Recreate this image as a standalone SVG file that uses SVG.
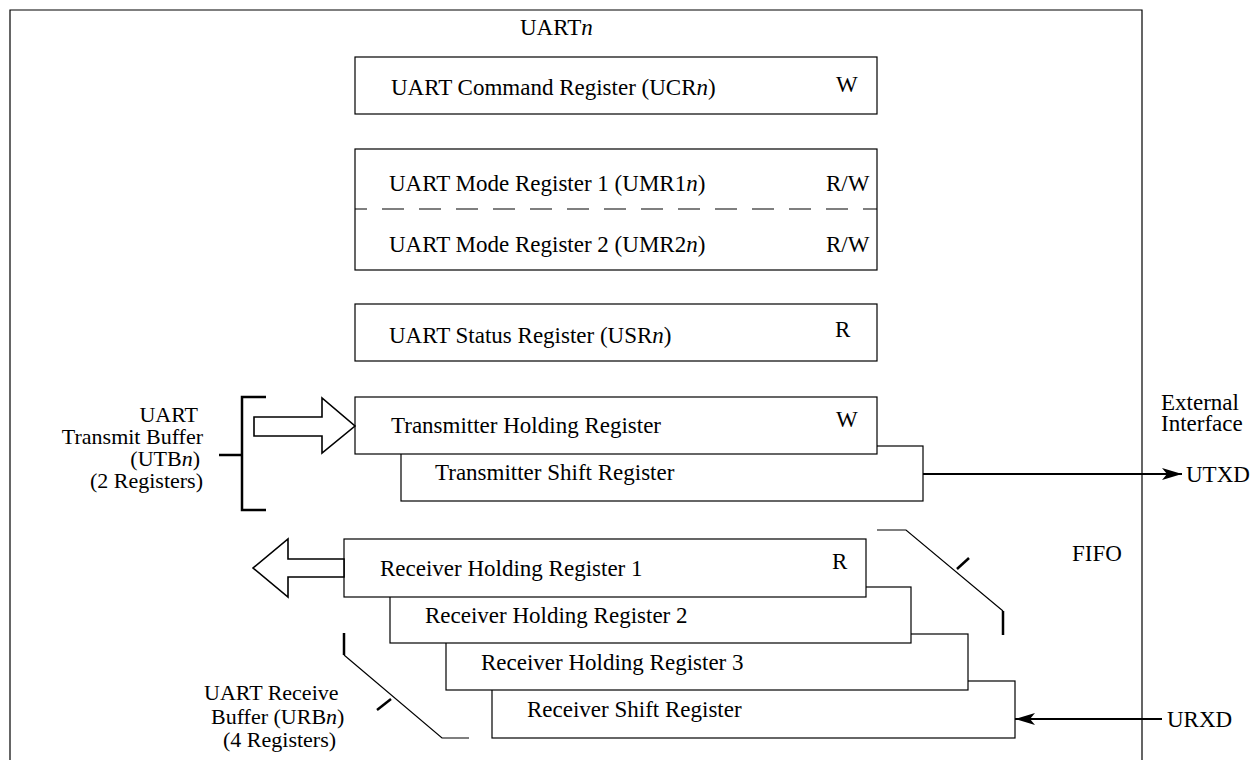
<svg xmlns="http://www.w3.org/2000/svg" width="1258" height="760" viewBox="0 0 1258 760">
<style>
text{font-family:"Liberation Serif","Times New Roman",serif;font-size:23px;fill:#000}
.lbl{font-size:22px}
.box{fill:#fff;stroke:#000;stroke-width:1.2}
.it{font-style:italic}
.ln{fill:none;stroke:#000;stroke-width:1.2}
.thick{fill:none;stroke:#000;stroke-width:2.5}
.hollow{fill:#fff;stroke:#000;stroke-width:1.6;stroke-linejoin:miter}
.wire{fill:none;stroke:#000;stroke-width:2.2}
</style>
<defs>
<marker id="ah" markerUnits="userSpaceOnUse" markerWidth="20" markerHeight="12" refX="20" refY="6" orient="auto">
<path d="M0,0 L20,6 L0,12 L5,6 z" fill="#000"/>
</marker>
</defs>
<rect width="1258" height="760" fill="#fff"/>
<g id="frame">
<path class="ln" d="M10,760 V10 H1142 V760"/>
<text x="520" y="35">UART<tspan class="it">n</tspan></text>
<text x="1161" y="410">External</text>
<text x="1161" y="431">Interface</text>
<text x="1072" y="561">FIFO</text>
</g>
<g id="ucr">
<rect class="box" x="355" y="57" width="522" height="57"/>
<text x="391" y="95">UART Command Register (UCR<tspan class="it">n</tspan>)</text>
<text x="836" y="92">W</text>
</g>
<g id="umr">
<rect class="box" x="355" y="149" width="522" height="121"/>
<line class="ln" x1="355" y1="209" x2="877" y2="209" stroke-dasharray="22,15" stroke-dashoffset="10"/>
<text x="389" y="191">UART Mode Register 1 (UMR1<tspan class="it">n</tspan>)</text>
<text x="826" y="191">R/W</text>
<text x="389" y="252">UART Mode Register 2 (UMR2<tspan class="it">n</tspan>)</text>
<text x="826" y="252">R/W</text>
</g>
<g id="usr">
<rect class="box" x="355" y="304" width="522" height="57"/>
<text x="389" y="343">UART Status Register (USR<tspan class="it">n</tspan>)</text>
<text x="835" y="337">R</text>
</g>
<g id="tsr">
<rect class="box" x="401" y="446" width="522" height="55"/>
<text x="435" y="480">Transmitter Shift Register</text>
</g>
<g id="thr">
<rect class="box" x="355" y="397" width="522" height="57"/>
<text x="391" y="433">Transmitter Holding Register</text>
<text x="836" y="427">W</text>
</g>
<g id="rsr">
<rect class="box" x="492" y="681" width="523" height="57"/>
<text x="527" y="717">Receiver Shift Register</text>
</g>
<g id="rhr3">
<rect class="box" x="446" y="634" width="522" height="56"/>
<text x="481" y="670">Receiver Holding Register 3</text>
</g>
<g id="rhr2">
<rect class="box" x="390" y="587" width="521" height="56"/>
<text x="425" y="623">Receiver Holding Register 2</text>
</g>
<g id="rhr1">
<rect class="box" x="344" y="539" width="522" height="58"/>
<text x="380" y="576">Receiver Holding Register 1</text>
<text x="832" y="569">R</text>
</g>
<g id="utb-label">
<text class="lbl" x="198" y="422" text-anchor="end">UART</text>
<text class="lbl" x="203" y="444" text-anchor="end">Transmit Buffer</text>
<text class="lbl" x="200" y="466" text-anchor="end">(UTB<tspan class="it">n</tspan>)</text>
<text class="lbl" x="203" y="488" text-anchor="end">(2 Registers)</text>
<path class="thick" d="M266,397 H242 V510 H266"/>
<line class="thick" x1="219" y1="455" x2="242" y2="455"/>
</g>
<g id="urb-label">
<text class="lbl" x="204" y="700">UART Receive</text>
<text class="lbl" x="211" y="724">Buffer (URB<tspan class="it">n</tspan>)</text>
<text class="lbl" x="223" y="747">(4 Registers)</text>
<path class="ln" d="M344,655 L442,738 H469"/>
<line class="thick" x1="344" y1="633" x2="344" y2="655"/>
<line class="thick" x1="377" y1="710" x2="391" y2="699"/>
</g>
<g id="fifo-bracket">
<path class="ln" d="M877,530 H906 L1003,611"/>
<line class="thick" x1="1003" y1="611" x2="1003" y2="635"/>
<line class="thick" x1="957" y1="569" x2="969" y2="558"/>
</g>
<g id="connectors">
<polygon class="hollow" points="254,417 322,417 322,398 355,426 322,453 322,436 254,436"/>
<polygon class="hollow" points="344,559 288,559 288,539 253,568 288,597 288,577 344,577"/>
<line class="wire" x1="923" y1="474" x2="1182" y2="474" marker-end="url(#ah)"/>
<text x="1186" y="482">UTXD</text>
<line class="wire" x1="1162" y1="719" x2="1015" y2="719" marker-end="url(#ah)"/>
<text x="1167" y="727">URXD</text>
</g>
</svg>
